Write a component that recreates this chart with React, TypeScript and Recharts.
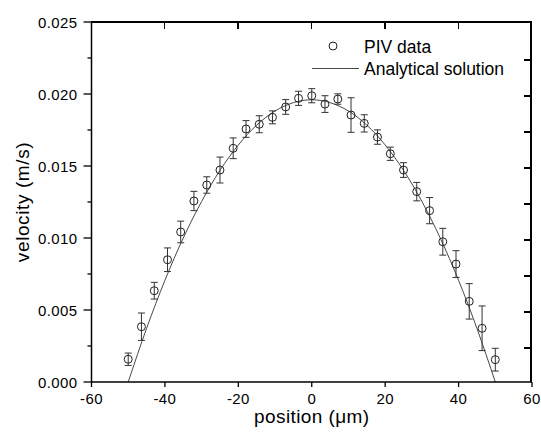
import React from "react";
import {
  ComposedChart,
  Scatter,
  Line,
  ErrorBar,
  XAxis,
  YAxis,
  Label,
} from "recharts";

const positions = [
  -50, -46.4, -42.9, -39.3, -35.7, -32.1, -28.6, -25, -21.4, -17.9, -14.3,
  -10.7, -7.1, -3.6, 0, 3.6, 7.1, 10.7, 14.3, 17.9, 21.4, 25, 28.6, 32.1, 35.7,
  39.3, 42.9, 46.4, 50,
];
const velocities = [
  0.00158, 0.00384, 0.00634, 0.00849, 0.01042, 0.01257, 0.01368, 0.01472,
  0.01623, 0.01757, 0.0179, 0.01838, 0.0191, 0.0197, 0.01988, 0.0193, 0.01965,
  0.01854, 0.01796, 0.01701, 0.01585, 0.01472, 0.01322, 0.0119, 0.00974,
  0.00819, 0.0056, 0.00373, 0.00155,
];
const errors = [
  0.00043, 0.00095, 0.00058, 0.00082, 0.00075, 0.00067, 0.00057, 0.0009,
  0.00072, 0.00058, 0.00059, 0.00045, 0.00051, 0.00049, 0.00049, 0.00058,
  0.00036, 0.0012, 0.0006, 0.0005, 0.00046, 0.00051, 0.00064, 0.00091, 0.00093,
  0.00093, 0.00123, 0.00155, 0.00079,
];

// analytical solution
const curveX = [
  -50, -45, -40, -35, -30, -25, -20, -15, -10, -5, 0, 5, 10, 15, 20, 25, 30, 35,
  40, 45, 50,
];
const curveV = [
  0, 0.00372, 0.00706, 0.01, 0.01254, 0.0147, 0.01646, 0.01784, 0.01882,
  0.0194, 0.0196, 0.0194, 0.01882, 0.01784, 0.01646, 0.0147, 0.01254, 0.01,
  0.00706, 0.00372, 0,
];

const xTicks = [-60, -40, -20, 0, 20, 40, 60];
const yTicks = [
  0, 0.0025, 0.005, 0.0075, 0.01, 0.0125, 0.015, 0.0175, 0.02, 0.0225, 0.025,
];

const FONT = '"Liberation Sans", Arial, sans-serif';

// chart box
const W = 541;
const H = 435;
const M_TOP = 22;
const M_RIGHT = 9;
const Y_AXIS_W = 91.5;
const X_AXIS_H = 53;
const PLOT_L = Y_AXIS_W;
const PLOT_R = W - M_RIGHT;
const PLOT_T = M_TOP;
const PLOT_B = H - X_AXIS_H;

const pivData = positions.map((x, i) => ({
  x,
  v: velocities[i],
  err: errors[i],
}));
const curveData = curveX.map((x, i) => ({ x, v: curveV[i] }));

const isMajor = (v: number) => Math.round(v / 0.0025) % 2 === 0;

const LeftTick = ({ x, y, payload }: any) => {
  const major = isMajor(payload.value);
  return (
    <g>
      <line
        x1={x - (major ? 8 : 4)}
        x2={x}
        y1={y}
        y2={y}
        stroke="#000"
        strokeWidth={1.3}
      />
      {major && (
        <text
          x={x - 14}
          y={y}
          textAnchor="end"
          dominantBaseline="central"
          fontSize={15}
          fontFamily={FONT}
          letterSpacing={0.4}
          fill="#000"
        >
          {payload.value.toFixed(3)}
        </text>
      )}
    </g>
  );
};

const BottomTick = ({ x, y, payload }: any) => (
  <g>
    <line x1={x} x2={x} y1={y} y2={y + 5} stroke="#000" strokeWidth={1.3} />
    <text
      x={x}
      y={y + 16}
      textAnchor="middle"
      dominantBaseline="central"
      fontSize={15}
      fontFamily={FONT}
      letterSpacing={0.4}
      fill="#000"
    >
      {payload.value}
    </text>
  </g>
);

const Circle = ({ cx, cy }: any) => (
  <circle cx={cx} cy={cy} r={4} fill="none" stroke="#222" strokeWidth={1} />
);

const axisLine = { stroke: "#000", strokeWidth: 1.5 };

// frame tick positions on the top and right edges (decoration only)
const frameX = (t: number) => ((t + 60) / 120) * (PLOT_R - PLOT_L);
const frameY = (v: number) => (1 - v / 0.025) * (PLOT_B - PLOT_T);

export default function App() {
  return (
    <div
      style={{
        position: "absolute",
        left: 0,
        top: 0,
        width: W,
        height: H,
        background: "#fff",
        fontFamily: FONT,
      }}
    >
      <ComposedChart
        width={W}
        height={H}
        margin={{ top: M_TOP, right: M_RIGHT, bottom: 0, left: 0 }}
      >
        <XAxis
          dataKey="x"
          type="number"
          domain={[-60, 60]}
          ticks={xTicks}
          interval={0}
          height={X_AXIS_H}
          tickSize={0}
          tickMargin={0}
          tickLine={false}
          axisLine={axisLine}
          tick={<BottomTick />}
        >
          <Label
            value="position (μm)"
            position="insideBottom"
            offset={12}
            style={{
              fontSize: 19,
              fontFamily: FONT,
              fill: "#000",
              letterSpacing: 0.4,
            }}
          />
        </XAxis>
        <YAxis
          dataKey="v"
          type="number"
          domain={[0, 0.025]}
          ticks={yTicks}
          interval={0}
          width={Y_AXIS_W}
          tickSize={0}
          tickMargin={0}
          tickLine={false}
          axisLine={axisLine}
          tick={<LeftTick />}
        >
          <Label
            content={({ viewBox }: any) => {
              const cx = 22;
              const cy = viewBox.y + viewBox.height / 2;
              return (
                <text
                  x={cx}
                  y={cy}
                  transform={`rotate(-90 ${cx} ${cy})`}
                  textAnchor="middle"
                  dominantBaseline="central"
                  fontSize={19}
                  fontFamily={FONT}
                  letterSpacing={0.6}
                  fill="#000"
                >
                  velocity (m/s)
                </text>
              );
            }}
          />
        </YAxis>
        <Line
          data={curveData}
          dataKey="v"
          type="monotone"
          stroke="#333"
          strokeWidth={0.9}
          dot={false}
          activeDot={false}
          isAnimationActive={false}
        />
        <Scatter
          data={pivData}
          dataKey="v"
          shape={<Circle />}
          isAnimationActive={false}
        >
          <ErrorBar
            dataKey="err"
            direction="y"
            width={3.5}
            stroke="#333"
            strokeWidth={1}
            isAnimationActive={false}
          />
        </Scatter>
      </ComposedChart>

      {/* top and right frame as plain CSS borders */}
      <div
        style={{
          position: "absolute",
          left: PLOT_L - 1,
          top: PLOT_T - 1,
          width: PLOT_R - PLOT_L + 1,
          height: PLOT_B - PLOT_T + 1,
          borderTop: "2px solid #000",
          borderRight: "2px solid #000",
          boxSizing: "border-box",
          pointerEvents: "none",
        }}
      >
        {xTicks.slice(1, -1).map((t) => (
          <div
            key={"t" + t}
            style={{
              position: "absolute",
              left: frameX(t),
              top: 0,
              width: 1.5,
              height: 6,
              background: "#000",
            }}
          />
        ))}
        {yTicks.slice(1, -1).map((v) => (
          <div
            key={"r" + v}
            style={{
              position: "absolute",
              right: 0,
              top: frameY(v),
              width: 6,
              height: 1.5,
              background: "#000",
            }}
          />
        ))}
      </div>

      {/* legend */}
      <svg
        width={W}
        height={H}
        style={{ position: "absolute", left: 0, top: 0, pointerEvents: "none" }}
      >
        <circle cx={333} cy={46} r={4} fill="none" stroke="#222" />
        <text
          x={364}
          y={47}
          dominantBaseline="central"
          fontSize={17.5}
          fontFamily={FONT}
          fill="#000"
        >
          PIV data
        </text>
        <line x1={312} x2={359} y1={68.5} y2={68.5} stroke="#333" strokeWidth={0.9} />
        <text
          x={364}
          y={69}
          dominantBaseline="central"
          fontSize={17.5}
          fontFamily={FONT}
          fill="#000"
        >
          Analytical solution
        </text>
      </svg>
    </div>
  );
}
